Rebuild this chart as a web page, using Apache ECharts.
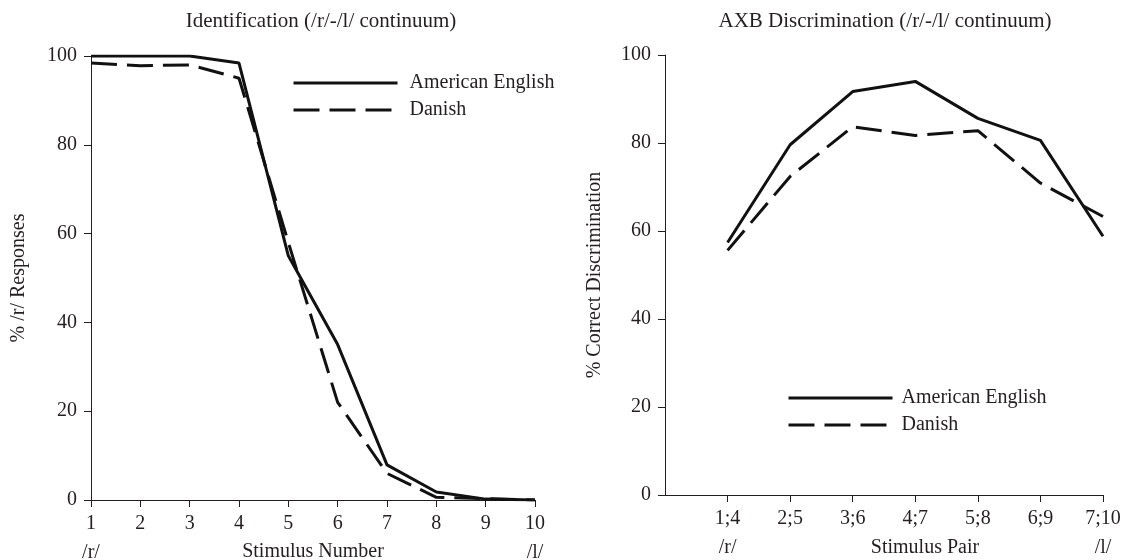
<!DOCTYPE html>
<html>
<head>
<meta charset="utf-8">
<script src="https://cdn.jsdelivr.net/npm/echarts@6/dist/echarts.min.js"></script>
<style>
html,body{margin:0;padding:0;background:#fff;}
#chart{width:1139px;height:560px;}
</style>
</head>
<body>
<div id="chart"></div>
<script>
// ---- data ----
const stimulusNumbers = [1, 2, 3, 4, 5, 6, 7, 8, 9, 10];
const identAmerican = [100, 100, 100, 98.4, 55, 35, 7.9, 1.8, 0.2, 0];
const identDanish   = [98.4, 97.8, 98, 95, 58, 22, 6, 0.6, 0.3, 0];

const stimulusPairs = ['1;4', '2;5', '3;6', '4;7', '5;8', '6;9', '7;10'];
const axbAmerican = [57.4, 79.6, 91.7, 94, 85.6, 80.6, 58.8];
const axbDanish   = [55.6, 72.4, 83.7, 81.7, 82.8, 70.9, 63.3];

const yTicks = [0, 20, 40, 60, 80, 100];
const continuumEnds = ['/r/', '/l/'];
const seriesNames = ['American English', 'Danish'];
const titles = ['Identification (/r/-/l/ continuum)', 'AXB Discrimination (/r/-/l/ continuum)'];
const xNames = ['Stimulus Number', 'Stimulus Pair'];
const yNames = ['% /r/ Responses', '% Correct Discrimination'];

// ---- chart ----
const FONT = '"Liberation Serif", "DejaVu Serif", serif';
const INK = '#231f20';
const chart = echarts.init(document.getElementById('chart'));

const pairXs = stimulusPairs.map((_, i) => i + 1);

function endLabel(value, first, last) {
  let end = ' ';
  if (value === first) end = continuumEnds[0];
  if (value === last) end = continuumEnds[1];
  return '{v|' + value + '}\n{e|' + end + '}';
}

const richLabel = {
  v: { fontFamily: FONT, fontSize: 20, color: INK, lineHeight: 24 },
  e: { fontFamily: FONT, fontSize: 20, color: INK, lineHeight: 34 }
};

const lineBase = { color: '#111', width: 3 };
const DASH = [26, 10];

const yAxisCommon = {
  type: 'value', min: yTicks[0], max: yTicks[yTicks.length - 1], interval: yTicks[1] - yTicks[0],
  nameLocation: 'middle', nameGap: 62, nameMoveOverlap: false,
  nameTextStyle: { fontFamily: FONT, fontSize: 20, color: INK },
  axisLine: { show: true, lineStyle: { color: INK, width: 1 } },
  axisTick: { show: true, length: 7, lineStyle: { color: INK } },
  axisLabel: { fontFamily: FONT, fontSize: 20, color: INK, margin: 14 },
  splitLine: { show: false }
};

const legendCommon = {
  orient: 'vertical', itemWidth: 104, itemHeight: 14, itemGap: 7,
  data: seriesNames, selectedMode: false,
  itemStyle: { opacity: 0 },
  lineStyle: { width: 3 },
  textStyle: { fontFamily: FONT, fontSize: 20, color: INK }
};

const option = {
  animation: false,
  backgroundColor: '#fff',
  title: [
    { text: titles[0], left: 316, top: 6, textAlign: 'center',
      textStyle: { fontFamily: FONT, fontSize: 21, fontWeight: 'normal', color: INK } },
    { text: titles[1], left: 880, top: 6, textAlign: 'center',
      textStyle: { fontFamily: FONT, fontSize: 21, fontWeight: 'normal', color: INK } }
  ],
  legend: [
    Object.assign({}, legendCommon, { left: 287, top: 68,
      textStyle: Object.assign({}, legendCommon.textStyle, { padding: [0, 0, 0, 7] }) }),
    Object.assign({}, legendCommon, { left: 782, top: 383,
      textStyle: Object.assign({}, legendCommon.textStyle, { padding: [0, 0, 0, 4] }) })
  ],
  grid: [
    { left: 91, right: 604, top: 56, bottom: 60, outerBoundsMode: 'none', containLabel: false },
    { left: 665, right: 36, top: 55, bottom: 65, outerBoundsMode: 'none', containLabel: false }
  ],
  xAxis: [
    { gridIndex: 0, type: 'value', min: stimulusNumbers[0], max: stimulusNumbers[stimulusNumbers.length - 1], interval: 1,
      name: xNames[0], nameLocation: 'middle', nameGap: 52, nameMoveOverlap: false,
      nameTextStyle: { fontFamily: FONT, fontSize: 20, color: INK, verticalAlign: 'middle' },
      axisLine: { show: true, onZero: false, lineStyle: { color: INK, width: 1 } },
      axisTick: { show: true, length: 7, lineStyle: { color: INK } },
      axisLabel: { margin: 12, rich: richLabel,
        formatter: v => endLabel(String(v), String(stimulusNumbers[0]), String(stimulusNumbers[stimulusNumbers.length - 1])) },
      splitLine: { show: false } },
    { gridIndex: 1, type: 'value', min: 0, max: stimulusPairs.length, interval: 1,
      name: xNames[1], nameLocation: 'middle', nameGap: 53, nameMoveOverlap: false,
      nameTextStyle: { fontFamily: FONT, fontSize: 20, color: INK, verticalAlign: 'middle', padding: [0, 0, 0, 82] },
      axisLine: { show: true, onZero: false, lineStyle: { color: INK, width: 1 } },
      axisTick: { show: true, length: 7, lineStyle: { color: INK }, customValues: pairXs },
      axisLabel: { margin: 12, rich: richLabel, customValues: pairXs,
        formatter: v => {
          const lab = stimulusPairs[v - 1];
          if (lab === undefined) return '';
          return endLabel(lab, stimulusPairs[0], stimulusPairs[stimulusPairs.length - 1]);
        } },
      splitLine: { show: false } }
  ],
  yAxis: [
    Object.assign({}, yAxisCommon, { gridIndex: 0, name: yNames[0] }),
    Object.assign({}, yAxisCommon, { gridIndex: 1, name: yNames[1], nameGap: 60 })
  ],
  series: [
    { name: seriesNames[0], type: 'line', xAxisIndex: 0, yAxisIndex: 0, symbol: 'none',
      data: stimulusNumbers.map((x, i) => [x, identAmerican[i]]),
      lineStyle: Object.assign({}, lineBase, { type: 'solid' }), itemStyle: { color: '#111' } },
    { name: seriesNames[1], type: 'line', xAxisIndex: 0, yAxisIndex: 0, symbol: 'none',
      data: stimulusNumbers.map((x, i) => [x, identDanish[i]]),
      lineStyle: Object.assign({}, lineBase, { type: DASH }), itemStyle: { color: '#111' } },
    { name: seriesNames[0], type: 'line', xAxisIndex: 1, yAxisIndex: 1, symbol: 'none',
      data: pairXs.map((x, i) => [x, axbAmerican[i]]),
      lineStyle: Object.assign({}, lineBase, { type: 'solid' }), itemStyle: { color: '#111' } },
    { name: seriesNames[1], type: 'line', xAxisIndex: 1, yAxisIndex: 1, symbol: 'none',
      data: pairXs.map((x, i) => [x, axbDanish[i]]),
      lineStyle: Object.assign({}, lineBase, { type: DASH }), itemStyle: { color: '#111' } }
  ]
};
chart.setOption(option);
</script>
</body>
</html>
